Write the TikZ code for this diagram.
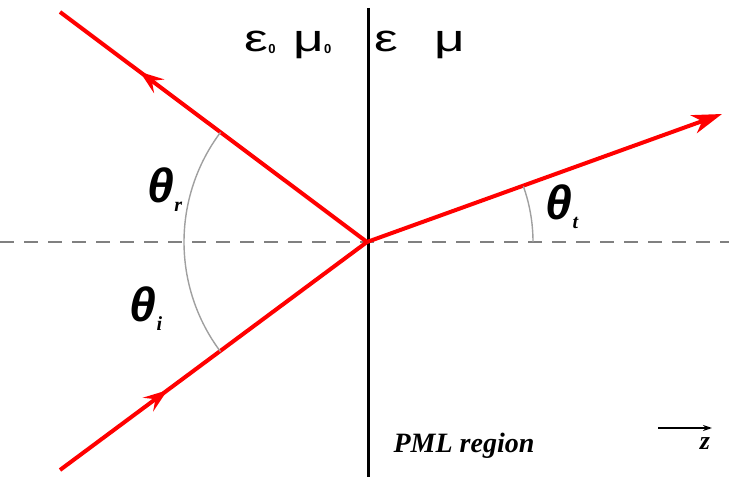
\documentclass[tikz,border=0pt]{standalone}
\usepackage{fontspec}
\setmainfont{Liberation Serif}
\newfontfamily\greekfont{Liberation Sans}
\usetikzlibrary{arrows.meta,decorations.markings}
\definecolor{ray}{HTML}{FF0000}
\definecolor{axisgray}{HTML}{808080}
\definecolor{arcgray}{HTML}{A0A0A0}
\tikzset{
  raypath/.style={draw=ray,line width=4pt},
  midarrow/.style={raypath,postaction={decorate},decoration={markings,
    mark=at position #1 with {\arrow{Stealth[length=24pt,width=17pt,inset=9pt]}}}},
  normal/.style={draw=axisgray,line width=2.8pt,dash pattern=on 14pt off 10pt},
  anglearc/.style={draw=arcgray,line width=1.4pt},
  anglelabel/.style={font=\greekfont\fontsize{48}{48}\selectfont\bfseries\itshape,inner sep=0pt},
  medium/.style={font=\greekfont\fontsize{38}{38}\selectfont,inner sep=0pt},
}
\newcommand{\sub}[1]{\raisebox{-9pt}{\fontsize{20}{20}\selectfont\rmfamily\itshape #1}}
\newcommand{\zsub}{\raisebox{-2pt}{\fontsize{13}{13}\selectfont\bfseries 0}}
\newcommand{\wide}[1]{\scalebox{1.4}[1]{#1}}
\begin{document}
\begin{tikzpicture}[x=1pt,y=1pt]
  \useasboundingbox (0,0) rectangle (729,477);
  % interface and normal
  \coordinate (top) at (368,469);
  \coordinate (bot) at (368,0);
  \coordinate (O) at (367,235);
  \coordinate (left) at (0,235);
  \coordinate (right) at (729,235);
  \draw[normal] (left) -- (right);
  \draw[line width=3pt] (top) -- (bot);
  % rays
  \coordinate (src) at (60,7);
  \coordinate (refl) at (60,465);
  \coordinate (trans) at (722,363);
  \draw[midarrow=0.35] (src) -- (O);
  \draw[midarrow=0.74] (O) -- (refl);
  \draw[raypath,-{Stealth[length=30pt,width=19pt,inset=9pt]}] (O) -- (trans);
  % angles
  \draw[anglearc] (O) ++(143.2:183) arc[start angle=143.2,end angle=216.8,radius=183];
  \draw[anglearc] (O) ++(0:166) arc[start angle=0,end angle=19.6,radius=166];
  \node[anglelabel] (thr) at (165,287) {θ\sub{r}};
  \node[anglelabel] (thi) at (146,168) {θ\sub{i}};
  \node[anglelabel] (tht) at (562,270) {θ\sub{t}};
  % media
  \node[medium] (eps0) at (288,432) {\wide{ε}\zsub\hspace{18pt}\wide{μ}\zsub};
  \node[medium] (eps) at (420,432) {\wide{ε}\hspace{36pt}\wide{μ}};
  \node[font=\fontsize{28}{28}\selectfont\bfseries\itshape] (pml) at (464,31) {PML region};
  \coordinate (za) at (658,49);
  \coordinate (zb) at (712,49);
  \draw[line width=1.6pt,-{Stealth[length=9pt,width=6pt]}] (za) -- (zb);
  \node[font=\fontsize{26}{26}\selectfont\bfseries\itshape] (z) at (705,33) {z};
\end{tikzpicture}
\end{document}
